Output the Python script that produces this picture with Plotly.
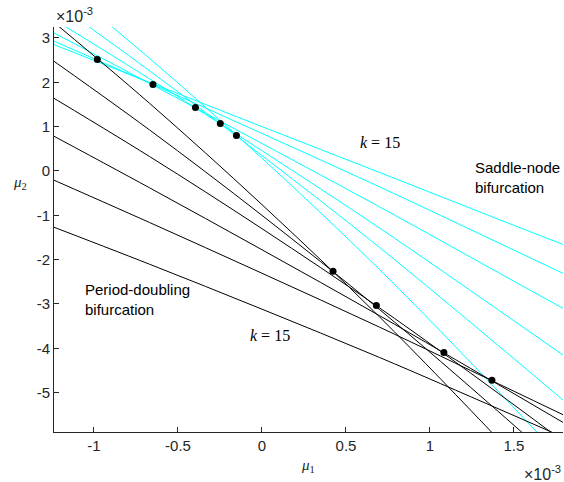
import plotly.graph_objects as go

mu1 = [-1.32, -0.67, 0.0, 0.70, 1.41, 1.89]

# period-doubling curves (black), mu2 in units of 10^-3
pd_k10 = [3.610, 1.528, -0.760, -3.294, -6.063, -8.003]
pd_k11 = [2.694, 0.927, -1.002, -3.127, -5.438, -7.053]
pd_k12 = [1.825, 0.327, -1.302, -3.089, -5.025, -6.374]
pd_k13 = [0.950, -0.379, -1.778, -3.265, -4.826, -5.891]
pd_k14 = [-0.072, -1.162, -2.308, -3.524, -4.806, -5.677]
pd_k15 = [-1.151, -2.103, -3.118, -4.208, -5.370, -6.167]

# saddle-node curves (cyan)
sn_k10 = [4.576, 2.541, 0.287, -2.225, -4.984, -6.927]
sn_k11 = [4.041, 2.261, 0.347, -1.726, -3.949, -5.483]
sn_k12 = [3.608, 2.080, 0.456, -1.288, -3.143, -4.413]
sn_k13 = [3.278, 1.977, 0.618, -0.810, -2.299, -3.306]
sn_k14 = [3.062, 1.983, 0.846, -0.359, -1.625, -2.486]
sn_k15 = [2.972, 1.999, 1.000, -0.034, -1.094, -1.803]

# codimension-two points (black dots)
dots_mu1 = [-0.980, -0.649, -0.396, -0.248, -0.152, 0.423, 0.681, 1.083, 1.369]
dots_mu2 = [2.514, 1.949, 1.431, 1.069, 0.799, -2.263, -3.037, -4.097, -4.722]

x_ticks = [-1, -0.5, 0, 0.5, 1, 1.5]
x_ticktext = ["-1", "-0.5", "0", "0.5", "1", "1.5"]
y_ticks = [-5, -4, -3, -2, -1, 0, 1, 2, 3]
y_ticktext = ["-5", "-4", "-3", "-2", "-1", "0", "1", "2", "3"]

sn_curves = [sn_k10, sn_k11, sn_k12, sn_k13, sn_k14, sn_k15]
pd_curves = [pd_k10, pd_k11, pd_k12, pd_k13, pd_k14, pd_k15]

fig = go.Figure()
for ys in sn_curves:
    fig.add_trace(go.Scatter(x=mu1, y=ys, mode="lines",
                             line=dict(color="#00FFFF", width=1, shape="spline", smoothing=1),
                             hoverinfo="skip"))
for ys in pd_curves:
    fig.add_trace(go.Scatter(x=mu1, y=ys, mode="lines",
                             line=dict(color="#000000", width=1, shape="spline", smoothing=1),
                             hoverinfo="skip"))
fig.add_trace(go.Scatter(x=dots_mu1, y=dots_mu2, mode="markers",
                         marker=dict(color="black", size=7), hoverinfo="skip"))

sans = "Liberation Sans, Arial, Helvetica, sans-serif"
serif = "Liberation Serif, Times New Roman, serif"
axcol = "#262626"

common = dict(showline=True, linecolor=axcol, linewidth=1, ticks="inside",
              ticklen=5, tickcolor=axcol, tickwidth=1, showgrid=False,
              zeroline=False, mirror=False, automargin=False,
              tickfont=dict(family=sans, size=15, color=axcol))

fig.update_layout(
    template="none",
    width=564, height=482,
    margin=dict(l=54, r=1, t=27, b=50),
    paper_bgcolor="white", plot_bgcolor="white",
    showlegend=False,
    xaxis=dict(range=[-1.238, 1.792], tickvals=x_ticks, ticktext=x_ticktext, **common),
    yaxis=dict(range=[-5.889, 3.247], tickvals=y_ticks, ticktext=y_ticktext, **common),
)

ann = [
    dict(text="×10<sup>-3</sup>", x=0.0, y=1.0, xref="paper", yref="paper",
         xanchor="left", yanchor="bottom", font=dict(family=sans, size=16, color=axcol)),
    dict(text="×10<sup>-3</sup>", x=1.0, y=-0.072, xref="paper", yref="paper",
         xanchor="right", yanchor="top", font=dict(family=sans, size=16, color=axcol)),
    dict(text="<i>μ</i><sub>1</sub>", x=0.499, y=-0.084, xref="paper", yref="paper",
         xanchor="center", yanchor="middle", font=dict(family=serif, size=15, color=axcol)),
    dict(text="<i>μ</i><sub>2</sub>", x=-0.0668, y=0.615, xref="paper", yref="paper",
         xanchor="center", yanchor="middle", font=dict(family=serif, size=15, color=axcol)),
    dict(text="<i>k</i> = 15", x=0.70, y=0.648, xref="x", yref="y",
         xanchor="center", yanchor="middle", font=dict(family=serif, size=16, color="black")),
    dict(text="<i>k</i> = 15", x=0.046, y=-3.707, xref="x", yref="y",
         xanchor="center", yanchor="middle", font=dict(family=serif, size=16, color="black")),
    dict(text="Saddle-node<br>bifurcation", x=1.254, y=-0.158, xref="x", yref="y",
         xanchor="left", yanchor="middle", align="left",
         font=dict(family=sans, size=15, color="black")),
    dict(text="Period-doubling<br>bifurcation", x=-1.067, y=-2.895, xref="x", yref="y",
         xanchor="left", yanchor="middle", align="left",
         font=dict(family=sans, size=15, color="black")),
]
for a in ann:
    a["showarrow"] = False
fig.update_layout(annotations=ann)

fig.write_html("out.html", config={"displayModeBar": False},
               post_script="document.body.style.margin='0';")
